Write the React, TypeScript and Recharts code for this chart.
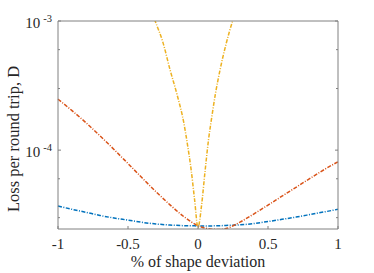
import React from "react";
import { Label, Line, LineChart, XAxis, YAxis } from "recharts";

// 형상 편차(%)에 따른 왕복 손실, 로그 y축 (MATLAB 스타일 재현)

const BLUE = "#0072BD";
const ORANGE = "#D95319";
const YELLOW = "#EDB120";
const AXIS = "#808080";
const TEXT = "#262626";
const FONT = "'Liberation Serif', 'Times New Roman', serif";
const DASH = "4 1.5 1 1.5";

const blueX = [
  -1, -0.9, -0.8, -0.7, -0.6, -0.5, -0.4, -0.3, -0.2, -0.1, 0, 0.1, 0.2, 0.3, 0.4, 0.5,
  0.6, 0.7, 0.8, 0.9, 1,
];
const blueLoss = [
  3.69e-5, 3.48e-5, 3.3e-5, 3.12e-5, 2.98e-5, 2.87e-5, 2.76e-5, 2.68e-5, 2.63e-5, 2.6e-5,
  2.59e-5, 2.59e-5, 2.61e-5, 2.64e-5, 2.7e-5, 2.8e-5, 2.91e-5, 3.03e-5, 3.17e-5, 3.32e-5,
  3.48e-5,
];

const orangeX = [
  -1, -0.9, -0.8, -0.7, -0.6, -0.5, -0.4, -0.3, -0.2, -0.1, 0, 0.05, 0.1, 0.15, 0.2, 0.3,
  0.4, 0.5, 0.6, 0.7, 0.8, 0.9, 1,
];
const orangeLoss = [
  2.48e-4, 2.023e-4, 1.629e-4, 1.291e-4, 1.012e-4, 7.87e-5, 6.11e-5, 4.76e-5, 3.77e-5,
  3.05e-5, 2.6e-5, 2.49e-5, 2.443e-5, 2.432e-5, 2.47e-5, 2.77e-5, 3.21e-5, 3.75e-5, 4.4e-5,
  5.15e-5, 6.04e-5, 7.05e-5, 8.13e-5,
];

const yellowX = [
  -0.35, -0.306, -0.25, -0.2, -0.15, -0.1, -0.075, -0.05, -0.025, 0, 0.025, 0.05, 0.075,
  0.1, 0.125, 0.157, 0.2, 0.247, 0.3,
];
const yellowLoss = [
  1.35e-3, 1.0e-3, 6.8e-4, 4.2e-4, 2.7e-4, 1.6e-4, 1.1e-4, 7.2e-5, 4.2e-5, 2.52e-5, 3.7e-5,
  6.8e-5, 1.2e-4, 1.85e-4, 2.75e-4, 4.16e-4, 6.6e-4, 1.0e-3, 1.45e-3,
];

const xTicks = [-1, -0.5, 0, 0.5, 1];
const yMajor = [1e-4, 1e-3];
const yTicks = [
  3e-5, 4e-5, 5e-5, 6e-5, 7e-5, 8e-5, 9e-5, 1e-4, 2e-4, 3e-4, 4e-4, 5e-4, 6e-4, 7e-4, 8e-4, 9e-4,
  1e-3,
];
const yDomain = [2.45e-5, 1e-3];

const blueRows = blueX.map((x, i) => ({ x, loss: blueLoss[i] }));
const orangeRows = orangeX.map((x, i) => ({ x, loss: orangeLoss[i] }));
const yellowRows = yellowX.map((x, i) => ({ x, loss: yellowLoss[i] }));

const isMajor = (v: number) => yMajor.some((m) => Math.abs(m - v) / m < 1e-6);

function BottomTick({ x, y, payload }: any) {
  return (
    <g>
      <line x1={x} x2={x} y1={y} y2={y - 3} stroke={AXIS} />
      <text x={x} y={y + 20} textAnchor="middle" fontFamily={FONT} fontSize={15} fill={TEXT}>
        {String(payload.value)}
      </text>
    </g>
  );
}

function TopTick({ x, y }: any) {
  return <line x1={x} x2={x} y1={y} y2={y + 3} stroke={AXIS} />;
}

function LeftTick({ x, y, payload }: any) {
  const major = isMajor(payload.value);
  const exp = Math.round(Math.log10(payload.value));
  return (
    <g>
      <line x1={x} x2={x + (major ? 3 : 2)} y1={y} y2={y} stroke={AXIS} />
      {major && (
        <text x={x - 6} y={y + 7} textAnchor="end" fontFamily={FONT} fontSize={15} fill={TEXT}>
          10
          <tspan dx={3} dy={-6.5} fontSize={10.5}>
            {String(exp)}
          </tspan>
        </text>
      )}
    </g>
  );
}

function RightTick({ x, y, payload }: any) {
  const major = isMajor(payload.value);
  return <line x1={x} x2={x - (major ? 3 : 2)} y1={y} y2={y} stroke={AXIS} />;
}

export default function App() {
  return (
    <div style={{ position: "absolute", left: 0, top: 0, background: "#fff" }}>
      <LineChart width={374} height={273} margin={{ top: 0, right: 0, bottom: 0, left: 0 }}>
        <XAxis
          xAxisId="b"
          dataKey="x"
          type="number"
          domain={[-1, 1]}
          ticks={xTicks}
          height={44}
          tickSize={0}
          tickMargin={0}
          tickLine={false}
          axisLine={{ stroke: AXIS }}
          tick={<BottomTick />}
        >
          <Label
            content={() => (
              <text x={198} y={267} textAnchor="middle" fontFamily={FONT} fontSize={16} fill={TEXT}>
                % of shape deviation
              </text>
            )}
          />
        </XAxis>
        <XAxis
          xAxisId="t"
          orientation="top"
          dataKey="x"
          type="number"
          domain={[-1, 1]}
          ticks={xTicks}
          height={21}
          tickSize={0}
          tickMargin={0}
          tickLine={false}
          axisLine={{ stroke: AXIS }}
          tick={<TopTick />}
        />
        <YAxis
          yAxisId="l"
          scale="log"
          type="number"
          domain={yDomain}
          allowDataOverflow
          ticks={yTicks}
          width={58}
          tickSize={0}
          tickMargin={0}
          tickLine={false}
          axisLine={{ stroke: AXIS }}
          tick={<LeftTick />}
        >
          <Label
            content={() => (
              <text
                x={13}
                y={139}
                transform="rotate(-90 13 139)"
                textAnchor="middle"
                dominantBaseline="central"
                fontFamily={FONT}
                fontSize={16.5}
                fill={TEXT}
              >
                Loss per round trip, D
              </text>
            )}
          />
        </YAxis>
        <YAxis
          yAxisId="r"
          orientation="right"
          scale="log"
          type="number"
          domain={yDomain}
          allowDataOverflow
          ticks={yTicks}
          width={36}
          tickSize={0}
          tickMargin={0}
          tickLine={false}
          axisLine={{ stroke: AXIS }}
          tick={<RightTick />}
        />
        <Line
          xAxisId="b"
          yAxisId="l"
          data={blueRows}
          dataKey="loss"
          type="monotone"
          stroke={BLUE}
          strokeWidth={1.5}
          strokeDasharray={DASH}
          dot={false}
          isAnimationActive={false}
        />
        <Line
          xAxisId="b"
          yAxisId="l"
          data={orangeRows}
          dataKey="loss"
          type="monotone"
          stroke={ORANGE}
          strokeWidth={1.5}
          strokeDasharray={DASH}
          dot={false}
          isAnimationActive={false}
        />
        <Line
          xAxisId="b"
          yAxisId="l"
          data={yellowRows}
          dataKey="loss"
          type="monotone"
          stroke={YELLOW}
          strokeWidth={1.5}
          strokeDasharray={DASH}
          dot={false}
          isAnimationActive={false}
        />
      </LineChart>
    </div>
  );
}
